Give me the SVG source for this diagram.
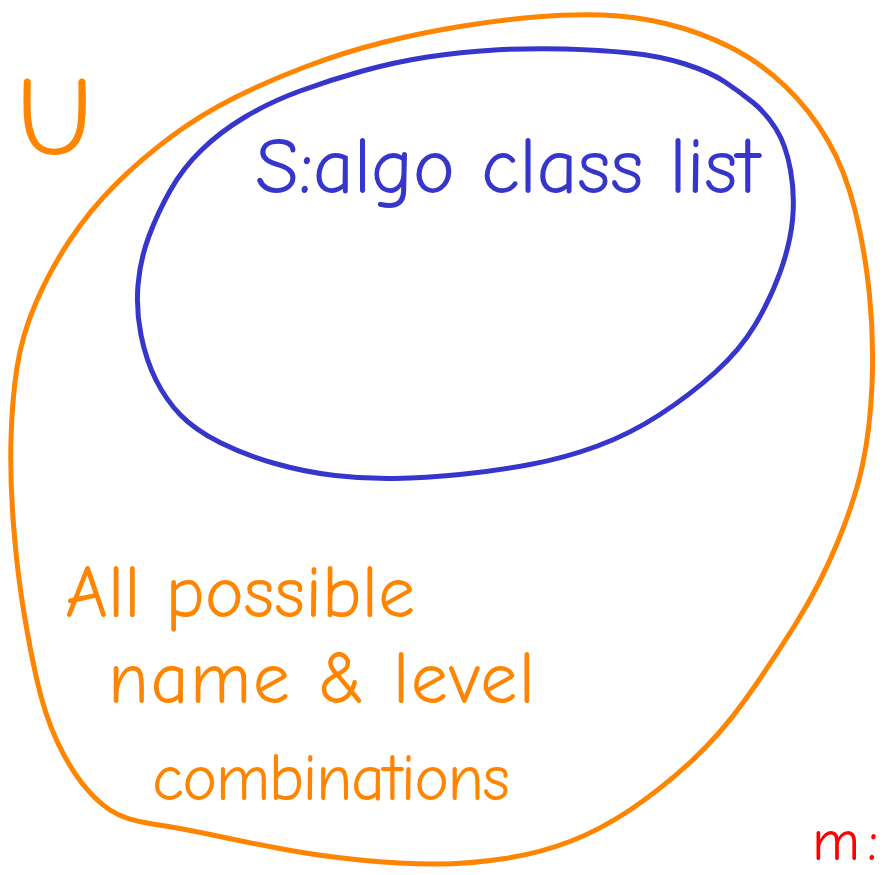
<svg xmlns="http://www.w3.org/2000/svg" width="888" height="875" viewBox="0 0 888 875">
<style>
.stroke{fill:none;stroke-width:5;stroke-linecap:round;stroke-linejoin:round}
.orange{stroke:#FF8400}
.blue{stroke:#3636CC}
.t{font-family:"Comic Neue","Liberation Sans","DejaVu Sans",sans-serif}
.to{fill:#FF8400}
.tb{fill:#3636CC}
.tr{fill:#FF0000}
</style>
<rect width="888" height="875" fill="#FFFFFF"/>
<g id="universe">
<path class="stroke orange" d="M110,810 Q95,800 81.5,782.5 Q68,765 56.5,740 Q45,715 37.5,682.5 Q30,650 23.5,610 Q17,570 13.5,525 Q10,480 11,440 Q12,400 17,367.5 Q22,335 36,302.5 Q50,270 70,240 Q90,210 115,185 Q140,160 170,137.5 Q200,115 235,97.5 Q270,80 307.5,66 Q345,52 382.5,42.5 Q420,33 460,26.5 Q500,20 535,17 Q570,14 602.5,15 Q635,16 667.5,24 Q700,32 730,47 Q760,62 785,86 Q810,110 827.5,140 Q845,170 855,210 Q865,250 869.5,295 Q874,340 872,385 Q870,430 862.5,465 Q855,500 837.5,542.5 Q820,585 795,625 Q770,665 745,700 Q720,735 690,762.5 Q660,790 630,810 Q600,830 570,841.5 Q540,853 505,858.5 Q470,864 435,864 Q400,864 360,860 Q320,856 285,849.5 Q250,843 215,835.5 Q180,828 152.5,824 Q125,820 110,810 Z"/>
<text class="t to" x="16" y="154" font-size="112">U</text>
<text class="t to" x="65" y="617" font-size="74" textLength="350" lengthAdjust="spacing">All possible</text>
<text class="t to" x="108" y="703" font-size="74" textLength="427" lengthAdjust="spacing">name &amp; level</text>
<text class="t to" x="152" y="800" font-size="66" textLength="358" lengthAdjust="spacing">combinations</text>
</g>
<g id="set-s">
<path class="stroke blue" d="M725,82 Q710,72 685,64 Q660,56 630,53 Q600,50 565,49 Q530,48 495,50 Q460,52 427.5,57 Q395,62 362.5,71 Q330,80 300,91 Q270,102 245,117 Q220,132 201.5,150 Q183,168 170.5,190 Q158,212 149,236 Q140,260 138,285 Q136,310 141,335 Q146,360 156,380 Q166,400 180.5,415 Q195,430 220,442.5 Q245,455 275,463.5 Q305,472 335,475.5 Q365,479 395,478.5 Q425,478 460,474.5 Q495,471 530,464.5 Q565,458 597.5,446 Q630,434 660,414.5 Q690,395 715,372.5 Q740,350 755,325 Q770,300 780,272.5 Q790,245 792.5,220 Q795,195 790.5,170 Q786,145 776,129 Q766,113 753,102.5 Q740,92 725,82 Z"/>
<text class="t tb" x="255" y="193" font-size="80" textLength="505" lengthAdjust="spacing">S:algo class list</text>
</g>
<g id="m-label">
<text class="t tr" x="812" y="860" font-size="58" textLength="66" lengthAdjust="spacing">m:</text>
</g>
</svg>
